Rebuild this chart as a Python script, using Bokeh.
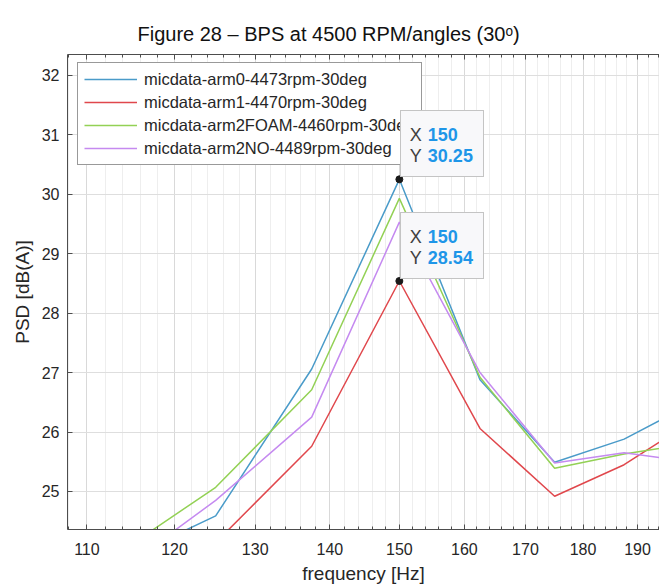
from bokeh.plotting import figure
from bokeh.models import (Legend, LegendItem, FixedTicker, PrintfTickFormatter,
                          LogAxis, Range1d)
from bokeh.models import HTMLLabel
from bokeh.embed import file_html
from bokeh.resources import INLINE

# ---- data ----
freq = [112.5, 125.0, 137.5, 150.0, 162.5, 175.0, 187.5, 200.0]
psd_arm0 = [23.74, 24.59, 27.06, 30.25, 26.88, 25.49, 25.88, 26.45]
psd_arm1 = [23.50, 24.14, 25.76, 28.54, 26.06, 24.92, 25.45, 26.15]
psd_arm2foam = [23.86, 25.07, 26.71, 29.93, 26.92, 25.39, 25.63, 25.80]
psd_arm2no = [23.54, 24.85, 26.25, 29.53, 27.00, 25.48, 25.65, 25.50]

series_names = ["micdata-arm0-4473rpm-30deg", "micdata-arm1-4470rpm-30deg",
                "micdata-arm2FOAM-4460rpm-30deg", "micdata-arm2NO-4489rpm-30deg"]
series_values = [psd_arm0, psd_arm1, psd_arm2foam, psd_arm2no]
series_colors = ["#4a9bc9", "#e0474c", "#93d155", "#c58af0"]

x_ticks = [110, 120, 130, 140, 150, 160, 170, 180, 190]
x_minor = list(range(106, 198, 2))
y_ticks = [25, 26, 27, 28, 29, 30, 31, 32]

tip_x = [150, 150]
tip_y = [30.25, 28.54]

FONT = "Liberation Sans"
AX = "#4d4d4d"
TXT = "#262626"

p = figure(width=659, height=588, x_axis_type="log",
           x_range=Range1d(107.9, 194.2), y_range=Range1d(24.36, 32.35),
           output_backend="svg", toolbar_location=None,
           min_border_left=67, min_border_right=0, min_border_top=54, min_border_bottom=59)

p.title.text = "Figure 28 \u2013 BPS at 4500 RPM/angles (30\u1d52)"
p.title.align = "left"
p.title.offset = 70
p.title.standoff = 19
p.title.text_font = FONT
p.title.text_font_size = "20px"
p.title.text_font_style = "normal"
p.title.text_color = "#111111"

p.outline_line_color = None
p.background_fill_color = "white"
p.border_fill_color = "white"

p.xaxis.ticker = FixedTicker(ticks=x_ticks, minor_ticks=x_minor)
p.xaxis.formatter = PrintfTickFormatter(format="%d")
p.yaxis.ticker = FixedTicker(ticks=y_ticks)

for ax in (p.xaxis[0], p.yaxis[0]):
    ax.axis_line_color = AX
    ax.major_tick_line_color = AX
    ax.minor_tick_line_color = AX
    ax.major_tick_in = 5
    ax.major_tick_out = 0
    ax.minor_tick_in = 3
    ax.minor_tick_out = 0
    ax.major_label_text_font = FONT
    ax.major_label_text_font_size = "16px"
    ax.major_label_text_color = TXT
    ax.axis_label_text_font = FONT
    ax.axis_label_text_font_size = "19px"
    ax.axis_label_text_font_style = "normal"
    ax.axis_label_text_color = TXT

p.yaxis.minor_tick_line_color = None
p.xaxis.axis_label = "frequency [Hz]"
p.yaxis.axis_label = "PSD [dB(A)]"
p.xaxis.major_label_standoff = 13
p.xaxis.axis_label_standoff = 5
p.yaxis.major_label_standoff = 8
p.yaxis.axis_label_standoff = 6

top = LogAxis(ticker=FixedTicker(ticks=x_ticks, minor_ticks=x_minor),
              major_label_text_font_size="1px", major_label_text_color=None,
              axis_line_color=AX,
              major_tick_line_color=AX, minor_tick_line_color=AX,
              major_tick_in=5, major_tick_out=0, minor_tick_in=3, minor_tick_out=0,
              major_label_standoff=0)
p.add_layout(top, "above")

p.xgrid.grid_line_color = "#d9d9d9"
p.xgrid.minor_grid_line_color = "#eeeeee"
p.ygrid.grid_line_color = "#dedede"

renderers = []
for name, vals, col in zip(series_names, series_values, series_colors):
    r = p.line(freq, vals, line_color=col, line_width=1.5)
    renderers.append(r)

p.scatter(tip_x, tip_y, size=7, fill_color="#1a1a1a", line_color="#1a1a1a")

legend = Legend(items=[LegendItem(label=n, renderers=[r]) for n, r in zip(series_names, renderers)],
                location=(10, 364), border_line_color="#333333", border_line_width=1,
                background_fill_color="white", background_fill_alpha=1.0,
                padding=6, margin=0, spacing=3, label_height=20, glyph_height=20,
                glyph_width=53, label_standoff=7, label_text_font=FONT,
                label_text_font_size="16.5px", label_text_color=TXT)
p.add_layout(legend)

for tx, ty in zip(tip_x, tip_y):
    box = HTMLLabel(x=tx, y=ty, x_offset=1, y_offset=2, text="X\nY",
                    text_align="left", text_baseline="bottom",
                    text_font=FONT, text_font_size="18px", text_color="#404040",
                    text_line_height=1.28,
                    background_fill_color="#f8f8fa", background_fill_alpha=1.0,
                    border_line_color="#c4c4c4", border_line_width=1,
                    padding=dict(left=9, right=61, top=14, bottom=9))
    p.add_layout(box)
    val = HTMLLabel(x=tx, y=ty, x_offset=29, y_offset=12, text=f"{tx:g}\n{ty:.2f}",
                    text_align="left", text_baseline="bottom",
                    text_font=FONT, text_font_size="18px", text_font_style="bold",
                    text_line_height=1.28, text_color="#1e96e8")
    p.add_layout(val)

open("out.html", "w").write(file_html(p, INLINE))
